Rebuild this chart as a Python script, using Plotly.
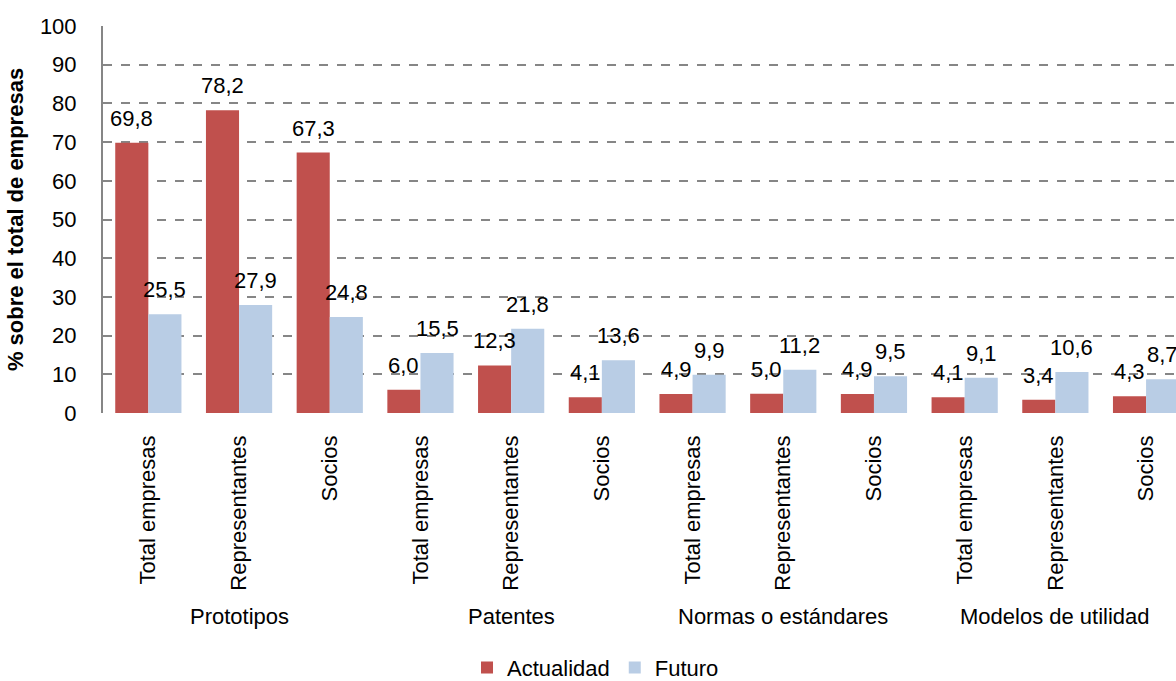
import plotly.graph_objects as go

groups = ["Prototipos", "Patentes", "Normas o estándares", "Modelos de utilidad"]
subcats = ["Total empresas", "Representantes", "Socios"]
actualidad = [69.8, 78.2, 67.3, 6.0, 12.3, 4.1, 4.9, 5.0, 4.9, 4.1, 3.4, 4.3]
futuro = [25.5, 27.9, 24.8, 15.5, 21.8, 13.6, 9.9, 11.2, 9.5, 9.1, 10.6, 8.7]
yticks = [0, 10, 20, 30, 40, 50, 60, 70, 80, 90, 100]

FONT = "Liberation Sans Narrow, Arial Narrow, Liberation Sans, Arial, sans-serif"
FS = 22
BARGAP = 0.27
HALF = (1 - BARGAP) / 4  # offset of each bar centre from category centre

xs = list(range(len(actualidad)))
ticktext = [subcats[i % 3] for i in xs]

def fmt(v):
    return f"{v:.1f}".replace(".", ",")

fig = go.Figure()
fig.add_trace(go.Bar(x=xs, y=actualidad, name="Actualidad", marker_color="#C0504D",
                     marker_line_width=0))
fig.add_trace(go.Bar(x=xs, y=futuro, name="Futuro", marker_color="#B9CDE5",
                     marker_line_width=0))

for i, v in enumerate(actualidad):
    fig.add_annotation(x=i - HALF, y=v, xref="x", yref="y", text=fmt(v), showarrow=False,
                       yanchor="bottom", yshift=10, font=dict(size=FS, family=FONT, color="black"))
for i, v in enumerate(futuro):
    fig.add_annotation(x=i + HALF, y=v, xref="x", yref="y", text=fmt(v), showarrow=False,
                       yanchor="bottom", yshift=10, font=dict(size=FS, family=FONT, color="black"))

for gi, g in enumerate(groups):
    fig.add_annotation(x=gi * 3 + 1, y=-0.527, xref="x", yref="paper", text=g,
                       showarrow=False, font=dict(size=FS, family=FONT, color="black"),
                       yanchor="middle")

fig.update_layout(
    width=1176, height=681,
    margin=dict(l=103, r=0, t=26, b=268, autoexpand=False),
    paper_bgcolor="white", plot_bgcolor="white",
    barmode="group", bargap=BARGAP, bargroupgap=0,
    font=dict(family=FONT, size=FS, color="black"),
    legend=dict(orientation="h", x=0.459, xanchor="center", y=-0.658, yanchor="middle",
                font=dict(size=FS, family=FONT), itemsizing="constant", itemwidth=30),
    xaxis=dict(tickmode="array", tickvals=xs, ticktext=ticktext, tickangle=-90,
               range=[-0.5, 11.33], showgrid=False, showline=False, ticks="",
               automargin=False,
               ticklabelstandoff=17, tickfont=dict(size=FS, family=FONT)),
    yaxis=dict(range=[0, 100], tickvals=yticks, showgrid=True, gridcolor="#868686",
               griddash="dash", gridwidth=1.5, zeroline=False, showline=True,
               linecolor="#868686", linewidth=2, ticks="",
               ticklabelstandoff=20, tickfont=dict(size=FS, family=FONT),
               automargin=False,
               title=dict(text="<b>% sobre el total de empresas</b>", standoff=10,
                          font=dict(size=FS, family=FONT))),
)
fig.write_html("out.html", config={"displayModeBar": False},
               post_script="document.body.style.margin='0';document.body.style.overflow='hidden';")
